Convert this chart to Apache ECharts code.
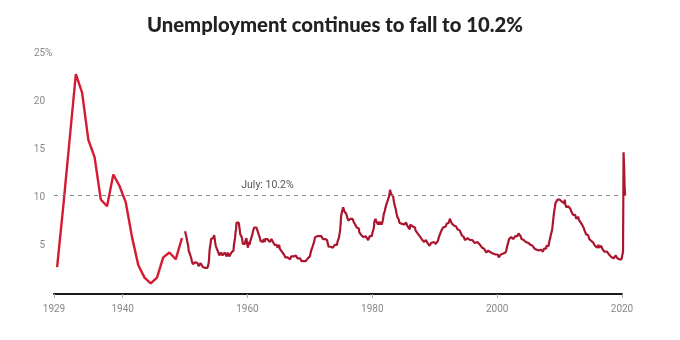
<!DOCTYPE html>
<html>
<head>
<meta charset="utf-8">
<script src="https://cdn.jsdelivr.net/npm/echarts@6/dist/echarts.min.js"></script>
<style>
  html, body { margin: 0; padding: 0; background: #fff; }
  #chart { width: 680px; height: 340px; }
</style>
</head>
<body>
<div id="chart"></div>
<script>
// Annual unemployment rate, 1929-1949 (%)
const annualYears = [1929, 1930, 1931, 1932, 1933, 1934, 1935, 1936, 1937, 1938,
                     1939, 1940, 1941, 1942, 1943, 1944, 1945, 1946, 1947, 1948, 1949];
const annualRate = [2.8, 9.2, 16.0, 22.8, 20.9, 16.0, 14.2, 9.8, 9.1, 12.4,
                    11.2, 9.5, 5.9, 3.0, 1.7, 1.1, 1.7, 3.8, 4.3, 3.6, 5.8];

// Monthly unemployment rate (seasonally adjusted, %), one row per year from 1950
const monthlyStartYear = 1950;
const monthlyRate = [
  [6.5, 6.4, 6.3, 5.8, 5.5, 5.4, 5.0, 4.5, 4.4, 4.2, 4.2, 4.3], // 1950
  [3.7, 3.4, 3.4, 3.1, 3.0, 3.2, 3.1, 3.1, 3.3, 3.5, 3.5, 3.1],
  [3.2, 3.1, 2.9, 2.9, 3.0, 3.0, 3.2, 3.4, 3.1, 3.0, 2.8, 2.7],
  [2.9, 2.6, 2.6, 2.7, 2.5, 2.5, 2.6, 2.7, 2.9, 3.1, 3.5, 4.5],
  [4.9, 5.2, 5.7, 5.9, 5.9, 5.6, 5.8, 6.0, 6.1, 5.7, 5.3, 5.0],
  [4.9, 4.7, 4.6, 4.7, 4.3, 4.2, 4.0, 4.2, 4.1, 4.3, 4.2, 4.2], // 1955
  [4.0, 3.9, 4.2, 4.0, 4.3, 4.3, 4.4, 4.1, 3.9, 3.9, 4.3, 4.2],
  [4.2, 3.9, 3.7, 3.9, 4.1, 4.3, 4.2, 4.1, 4.4, 4.5, 5.1, 5.2],
  [5.8, 6.4, 6.7, 7.4, 7.4, 7.3, 7.5, 7.4, 7.1, 6.7, 6.2, 6.2],
  [6.0, 5.9, 5.6, 5.2, 5.1, 5.0, 5.1, 5.2, 5.5, 5.7, 5.8, 5.3],
  [5.2, 4.8, 5.4, 5.2, 5.1, 5.4, 5.5, 5.6, 5.5, 6.1, 6.1, 6.6], // 1960
  [6.6, 6.9, 6.9, 7.0, 7.1, 6.9, 7.0, 6.6, 6.7, 6.5, 6.1, 6.0],
  [5.8, 5.5, 5.6, 5.6, 5.5, 5.5, 5.4, 5.7, 5.6, 5.4, 5.7, 5.5],
  [5.7, 5.9, 5.7, 5.7, 5.9, 5.6, 5.6, 5.4, 5.5, 5.5, 5.7, 5.5],
  [5.6, 5.4, 5.4, 5.3, 5.1, 5.2, 4.9, 5.0, 5.1, 5.1, 4.8, 5.0],
  [4.9, 5.1, 4.7, 4.8, 4.6, 4.6, 4.4, 4.4, 4.3, 4.2, 4.1, 4.0], // 1965
  [4.0, 3.8, 3.8, 3.8, 3.9, 3.8, 3.8, 3.8, 3.7, 3.7, 3.6, 3.8],
  [3.9, 3.8, 3.8, 3.8, 3.8, 3.9, 3.8, 3.8, 3.8, 4.0, 3.9, 3.8],
  [3.7, 3.8, 3.7, 3.5, 3.5, 3.7, 3.7, 3.5, 3.4, 3.4, 3.4, 3.4],
  [3.4, 3.4, 3.4, 3.4, 3.4, 3.5, 3.5, 3.5, 3.7, 3.7, 3.5, 3.5],
  [3.9, 4.2, 4.4, 4.6, 4.8, 4.9, 5.0, 5.1, 5.4, 5.5, 5.9, 6.1], // 1970
  [5.9, 5.9, 6.0, 5.9, 5.9, 5.9, 6.0, 6.1, 6.0, 5.8, 6.0, 6.0],
  [5.8, 5.7, 5.8, 5.7, 5.7, 5.7, 5.6, 5.6, 5.5, 5.6, 5.3, 5.2],
  [4.9, 5.0, 4.9, 5.0, 4.9, 4.9, 4.8, 4.8, 4.8, 4.6, 4.8, 4.9],
  [5.1, 5.2, 5.1, 5.1, 5.1, 5.4, 5.5, 5.5, 5.9, 6.0, 6.6, 7.2],
  [8.1, 8.1, 8.6, 8.8, 9.0, 8.8, 8.6, 8.4, 8.4, 8.4, 8.3, 8.2], // 1975
  [7.9, 7.7, 7.6, 7.7, 7.4, 7.6, 7.8, 7.8, 7.6, 7.7, 7.8, 7.8],
  [7.5, 7.6, 7.4, 7.2, 7.0, 7.2, 6.9, 7.0, 6.8, 6.8, 6.8, 6.4],
  [6.4, 6.3, 6.3, 6.1, 6.0, 5.9, 6.2, 5.9, 6.0, 5.8, 5.9, 6.0],
  [5.9, 5.9, 5.8, 5.8, 5.6, 5.7, 5.7, 6.0, 5.9, 6.0, 5.9, 6.0],
  [6.3, 6.3, 6.3, 6.9, 7.5, 7.6, 7.8, 7.7, 7.5, 7.5, 7.5, 7.2], // 1980
  [7.5, 7.4, 7.4, 7.2, 7.5, 7.5, 7.2, 7.4, 7.6, 7.9, 8.3, 8.5],
  [8.6, 8.9, 9.0, 9.3, 9.4, 9.6, 9.8, 9.8, 10.1, 10.4, 10.8, 10.8],
  [10.4, 10.4, 10.3, 10.2, 10.1, 10.1, 9.4, 9.5, 9.2, 8.8, 8.5, 8.3],
  [8.0, 7.8, 7.8, 7.7, 7.4, 7.2, 7.5, 7.5, 7.3, 7.4, 7.2, 7.3],
  [7.3, 7.2, 7.2, 7.3, 7.2, 7.4, 7.4, 7.1, 7.1, 7.1, 7.0, 7.0], // 1985
  [6.7, 7.2, 7.2, 7.1, 7.2, 7.2, 7.0, 6.9, 7.0, 7.0, 6.9, 6.6],
  [6.6, 6.6, 6.6, 6.3, 6.3, 6.2, 6.1, 6.0, 5.9, 6.0, 5.8, 5.7],
  [5.7, 5.7, 5.7, 5.4, 5.6, 5.4, 5.4, 5.6, 5.4, 5.4, 5.3, 5.3],
  [5.4, 5.2, 5.0, 5.2, 5.2, 5.3, 5.2, 5.2, 5.3, 5.3, 5.4, 5.4],
  [5.4, 5.3, 5.2, 5.4, 5.4, 5.2, 5.5, 5.7, 5.9, 5.9, 6.2, 6.3], // 1990
  [6.4, 6.6, 6.8, 6.7, 6.9, 6.9, 6.8, 6.9, 6.9, 7.0, 7.0, 7.3],
  [7.3, 7.4, 7.4, 7.4, 7.6, 7.8, 7.7, 7.6, 7.6, 7.3, 7.4, 7.4],
  [7.3, 7.1, 7.0, 7.1, 7.1, 7.0, 6.9, 6.8, 6.7, 6.8, 6.6, 6.5],
  [6.6, 6.6, 6.5, 6.4, 6.1, 6.1, 6.1, 6.0, 5.9, 5.8, 5.6, 5.5],
  [5.6, 5.4, 5.4, 5.8, 5.6, 5.6, 5.7, 5.7, 5.6, 5.5, 5.6, 5.6], // 1995
  [5.6, 5.5, 5.5, 5.6, 5.6, 5.3, 5.5, 5.1, 5.2, 5.2, 5.4, 5.4],
  [5.3, 5.2, 5.2, 5.1, 4.9, 5.0, 4.9, 4.8, 4.9, 4.7, 4.6, 4.7],
  [4.6, 4.6, 4.7, 4.3, 4.4, 4.5, 4.5, 4.5, 4.6, 4.5, 4.4, 4.4],
  [4.3, 4.4, 4.2, 4.3, 4.2, 4.3, 4.3, 4.2, 4.2, 4.1, 4.1, 4.0],
  [4.0, 4.1, 4.0, 3.8, 4.0, 4.0, 4.0, 4.1, 3.9, 3.9, 3.9, 3.9], // 2000
  [4.2, 4.2, 4.3, 4.4, 4.3, 4.5, 4.6, 4.9, 5.0, 5.3, 5.5, 5.7],
  [5.7, 5.7, 5.7, 5.9, 5.8, 5.8, 5.8, 5.7, 5.7, 5.7, 5.9, 6.0],
  [5.8, 5.9, 5.9, 6.0, 6.1, 6.3, 6.2, 6.1, 6.1, 6.0, 5.8, 5.7],
  [5.7, 5.6, 5.8, 5.6, 5.6, 5.6, 5.5, 5.4, 5.4, 5.5, 5.4, 5.4],
  [5.3, 5.4, 5.2, 5.2, 5.1, 5.0, 5.0, 4.9, 5.0, 5.0, 5.0, 4.9], // 2005
  [4.7, 4.8, 4.7, 4.7, 4.6, 4.6, 4.7, 4.7, 4.5, 4.4, 4.5, 4.4],
  [4.6, 4.5, 4.4, 4.5, 4.4, 4.6, 4.7, 4.6, 4.7, 4.7, 4.7, 5.0],
  [5.0, 4.9, 5.1, 5.0, 5.4, 5.6, 5.8, 6.1, 6.1, 6.5, 6.8, 7.3],
  [7.8, 8.3, 8.7, 9.0, 9.4, 9.5, 9.5, 9.6, 9.8, 10.0, 9.9, 9.9],
  [9.8, 9.8, 9.9, 9.9, 9.6, 9.4, 9.4, 9.5, 9.5, 9.4, 9.8, 9.3], // 2010
  [9.1, 9.0, 9.0, 9.1, 9.0, 9.1, 9.0, 9.0, 9.0, 8.8, 8.6, 8.5],
  [8.3, 8.3, 8.2, 8.2, 8.2, 8.2, 8.2, 8.0, 7.8, 7.8, 7.7, 7.9],
  [8.0, 7.7, 7.5, 7.6, 7.5, 7.5, 7.3, 7.2, 7.2, 7.2, 6.9, 6.7],
  [6.6, 6.7, 6.7, 6.2, 6.3, 6.1, 6.2, 6.1, 5.9, 5.7, 5.8, 5.6],
  [5.7, 5.5, 5.4, 5.4, 5.6, 5.3, 5.2, 5.1, 5.0, 5.0, 5.1, 5.0], // 2015
  [4.8, 4.9, 5.0, 5.1, 4.8, 4.9, 4.8, 4.9, 5.0, 4.9, 4.7, 4.7],
  [4.7, 4.6, 4.4, 4.4, 4.4, 4.3, 4.3, 4.4, 4.3, 4.2, 4.2, 4.1],
  [4.0, 4.1, 4.0, 4.0, 3.8, 4.0, 3.8, 3.8, 3.7, 3.8, 3.8, 3.9],
  [4.0, 3.8, 3.8, 3.7, 3.6, 3.6, 3.7, 3.6, 3.5, 3.6, 3.6, 3.6],
  [3.5, 3.5, 4.4, 14.7, 13.3, 11.1, 10.2]                       // 2020, Jan-Jul
];

// Axis ticks
const xTickYears = [1929, 1940, 1960, 1980, 2000, 2020];
const yMax = 25;
const yStep = 5;

// Series points: annual values sit at mid-year, monthly values at the start of each month
const annualData = annualYears.map((y, i) => [y + 0.5, annualRate[i]]);
const monthlyData = [];
monthlyRate.forEach((row, r) => {
  row.forEach((v, m) => monthlyData.push([monthlyStartYear + r + m / 12, v]));
});
const latest = monthlyData[monthlyData.length - 1][1];
const dataEnd = monthlyData[monthlyData.length - 1][0];

const labelFont = 'Roboto, "Noto Sans", sans-serif';
const titleText = 'Unemployment continues to fall to ' + latest.toFixed(1) + '%';
const titleFont = '900 21px Lato, "Open Sans", sans-serif';
const titleWidth = 376;

// Fit the heading to its column width
const measureCtx = document.createElement('canvas').getContext('2d');
measureCtx.font = titleFont;
const titleScale = titleWidth / measureCtx.measureText(titleText).width;

// Plot geometry: the visible axis runs 1929-2020, the data grid extends a few
// months further on the same scale so the latest readings are not clipped.
const plotLeft = 54, plotTop = 53, plotBottom = 46;
const axisRight = 58;
const pxPerYear = (680 - plotLeft - axisRight) / (xTickYears[xTickYears.length - 1] - xTickYears[0]);
const dataRight = axisRight - (dataEnd - xTickYears[xTickYears.length - 1]) * pxPerYear;

const chart = echarts.init(document.getElementById('chart'), null, { renderer: 'canvas' });
chart.setOption({
  backgroundColor: '#ffffff',
  animation: false,
  graphic: [{
    type: 'text',
    x: 147,
    y: 25,
    scaleX: titleScale,
    style: {
      text: titleText,
      font: titleFont,
      fill: '#222222',
      align: 'left',
      verticalAlign: 'middle'
    }
  }],
  grid: [
    { left: plotLeft, right: axisRight, top: plotTop, bottom: plotBottom },
    { left: plotLeft, right: dataRight, top: plotTop, bottom: plotBottom }
  ],
  xAxis: [
    {
      type: 'value',
      gridIndex: 0,
      min: xTickYears[0],
      max: xTickYears[xTickYears.length - 1],
      offset: 2,
      splitLine: { show: false },
      axisLine: { show: true, lineStyle: { color: '#1a1a1a', width: 2 } },
      axisTick: {
        show: true,
        customValues: xTickYears,
        length: 4,
        lineStyle: { color: '#aaaaaa', width: 1 }
      },
      axisLabel: {
        customValues: xTickYears,
        margin: 8,
        fontFamily: labelFont,
        fontSize: 10,
        color: '#888888',
        formatter: v => String(v)
      }
    },
    {
      type: 'value',
      gridIndex: 1,
      min: xTickYears[0],
      max: dataEnd,
      show: false
    }
  ],
  yAxis: [
    {
      type: 'value',
      gridIndex: 0,
      min: 0,
      max: yMax,
      interval: yStep,
      splitLine: { show: false },
      axisLine: { show: false },
      axisTick: { show: false },
      axisLabel: {
        align: 'left',
        margin: 20,
        fontFamily: labelFont,
        fontSize: 10,
        color: '#888888',
        formatter: v => v === 0 ? '' : (v === yMax ? '{n|' + v + '}{p|%}' : '{n|' + v + '}'),
        rich: {
          n: { width: 11, align: 'right', fontFamily: labelFont, fontSize: 10, color: '#888888' },
          p: { fontFamily: labelFont, fontSize: 10, color: '#888888' }
        }
      }
    },
    {
      type: 'value',
      gridIndex: 1,
      min: 0,
      max: yMax,
      interval: yStep,
      show: false
    }
  ],
  series: [
    {
      name: 'Annual',
      type: 'line',
      xAxisIndex: 1,
      yAxisIndex: 1,
      data: annualData,
      showSymbol: false,
      symbol: 'none',
      lineStyle: { color: '#d51a33', width: 2.4 },
      z: 3
    },
    {
      name: 'Monthly',
      type: 'line',
      xAxisIndex: 1,
      yAxisIndex: 1,
      data: monthlyData,
      showSymbol: false,
      symbol: 'none',
      lineStyle: { color: '#ab162e', width: 2.2 },
      z: 3,
      markPoint: {
        silent: true,
        symbol: 'circle',
        symbolSize: 0,
        data: [{ coord: [1963.2, latest] }],
        label: {
          show: true,
          position: 'inside',
          offset: [0, -10],
          formatter: 'July: ' + latest.toFixed(1) + '%',
          fontFamily: labelFont,
          fontSize: 10.5,
          color: '#555555'
        }
      }
    },
    {
      // Reference level at the latest reading, spanning the visible axis
      name: 'Latest level',
      type: 'line',
      xAxisIndex: 0,
      yAxisIndex: 0,
      data: [],
      markLine: {
        silent: true,
        symbol: ['none', 'none'],
        label: { show: false },
        lineStyle: { color: '#888888', type: [4, 4], width: 1 },
        data: [{ yAxis: latest }]
      },
      z: 1
    }
  ]
});
</script>
</body>
</html>
